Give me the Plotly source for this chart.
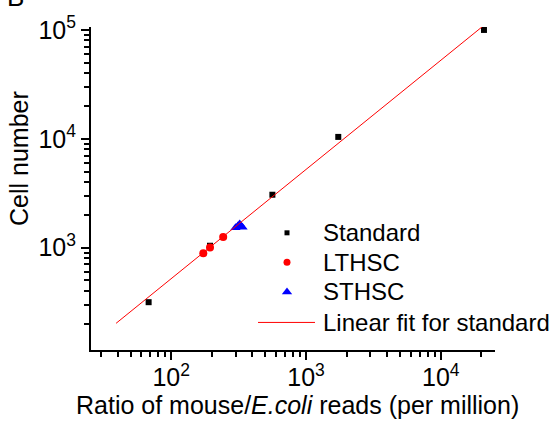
import numpy as np
import plotly.graph_objects as go

# Data
std_x = [68, 194, 563, 1735, 20900]
std_y = [315, 1040, 3060, 10400, 100000]
lt_x = [173, 194, 243]
lt_y = [888, 1000, 1250]
st_x = [300, 312, 322, 330, 338]
st_y = [1520, 1580, 1650, 1560, 1540]
fit_range = [39, 22000]

x_ticks = [100, 1000, 10000]
x_ticktext = ["10<sup>2</sup>", "10<sup>3</sup>", "10<sup>4</sup>"]
y_ticks = [1000, 10000, 100000]
y_ticktext = ["10<sup>3</sup>", "10<sup>4</sup>", "10<sup>5</sup>"]

legend_names = ["Standard", "LTHSC", "STHSC", "Linear fit for standard"]

b, a = np.polyfit(np.log10(std_x), np.log10(std_y), 1)
fx = np.array(fit_range, dtype=float)
fy = 10 ** (a + b * np.log10(fx))

FONT = "Liberation Sans, Arial, sans-serif"
W, H = 555, 421
ML, MR, MT, MB = 91, 60, 22, 71
PW, PH = W - ML - MR, H - MT - MB


def px2paper(px, py):
    return (px - ML) / PW, (H - MB - py) / PH


sq = dict(symbol="square", size=6, color="black")
ci = dict(symbol="circle", size=8, color="red")
tr = dict(symbol="triangle-up", size=9, color="blue")
ln = dict(color="red", width=1)

fig = go.Figure()
fig.add_trace(go.Scatter(x=std_x, y=std_y, mode="markers", name=legend_names[0], marker=sq))
fig.add_trace(go.Scatter(x=lt_x, y=lt_y, mode="markers", name=legend_names[1], marker=ci))
fig.add_trace(go.Scatter(x=st_x, y=st_y, mode="markers", name=legend_names[2], marker=tr))
fig.add_trace(go.Scatter(x=fx, y=fy, mode="lines", name=legend_names[3], line=ln))

# Hand-placed legend (overlay axes in plot-fraction units)
sym_px = 287
rows_py = [231, 261, 291, 322]
leg_markers = [dict(sq, size=5), dict(ci, size=7), dict(tr, size=9)]
for mk, py in zip(leg_markers, rows_py[:3]):
    lx, ly = px2paper(sym_px, py)
    fig.add_trace(go.Scatter(x=[lx], y=[ly], mode="markers", marker=mk,
                             xaxis="x2", yaxis="y2", showlegend=False, hoverinfo="skip"))
l0, ly = px2paper(258, rows_py[3])
l1, _ = px2paper(315, rows_py[3])
fig.add_trace(go.Scatter(x=[l0, l1], y=[ly, ly], mode="lines", line=ln,
                         xaxis="x2", yaxis="y2", showlegend=False, hoverinfo="skip"))
for name, py in zip(legend_names, rows_py):
    tx, ty = px2paper(321, py)
    fig.add_annotation(text=name, xref="paper", yref="paper", x=tx, y=ty,
                       xanchor="left", yanchor="middle", showarrow=False,
                       font=dict(family=FONT, size=24, color="black"))

axis_common = dict(
    type="log", showgrid=False, zeroline=False, showline=True,
    linecolor="black", linewidth=2, ticks="outside", ticklen=8, tickwidth=2,
    tickcolor="black", tickfont=dict(family=FONT, size=25, color="black"),
    minor=dict(ticks="outside", ticklen=5, tickwidth=1.5, tickcolor="black", dtick="D1"),
)

fig.update_layout(
    width=W, height=H,
    margin=dict(l=ML, r=MR, t=MT, b=MB),
    paper_bgcolor="white", plot_bgcolor="white",
    font=dict(family=FONT, size=24, color="black"),
    xaxis=dict(axis_common, range=[1.405, 4.402], tickvals=x_ticks, ticktext=x_ticktext,
               ticklabelstandoff=-4),
    yaxis=dict(axis_common, range=[2.059, 5.027], tickvals=y_ticks, ticktext=y_ticktext),
    xaxis2=dict(overlaying="x", range=[0, 1], visible=False),
    yaxis2=dict(overlaying="y", range=[0, 1], visible=False),
    showlegend=False,
)

# Axis titles
tx, ty = px2paper(297, 406)
fig.add_annotation(text="Ratio of mouse/<i>E.coli</i> reads (per million)",
                   xref="paper", yref="paper", x=tx, y=ty, xanchor="center", yanchor="middle",
                   showarrow=False, font=dict(family=FONT, size=25, color="black"))
tx, ty = px2paper(19, 156)
fig.add_annotation(text="Cell number", textangle=-90,
                   xref="paper", yref="paper", x=tx, y=ty, xanchor="center", yanchor="middle",
                   showarrow=False, font=dict(family=FONT, size=25, color="black"))

# Panel label (partly cut off at the top, as in the original)
tx, ty = px2paper(5, -8)
fig.add_annotation(text="B", xref="paper", yref="paper", x=tx, y=ty,
                   xanchor="left", yanchor="middle", showarrow=False,
                   font=dict(family=FONT, size=26, color="black"))

fig.write_html("out.html")
